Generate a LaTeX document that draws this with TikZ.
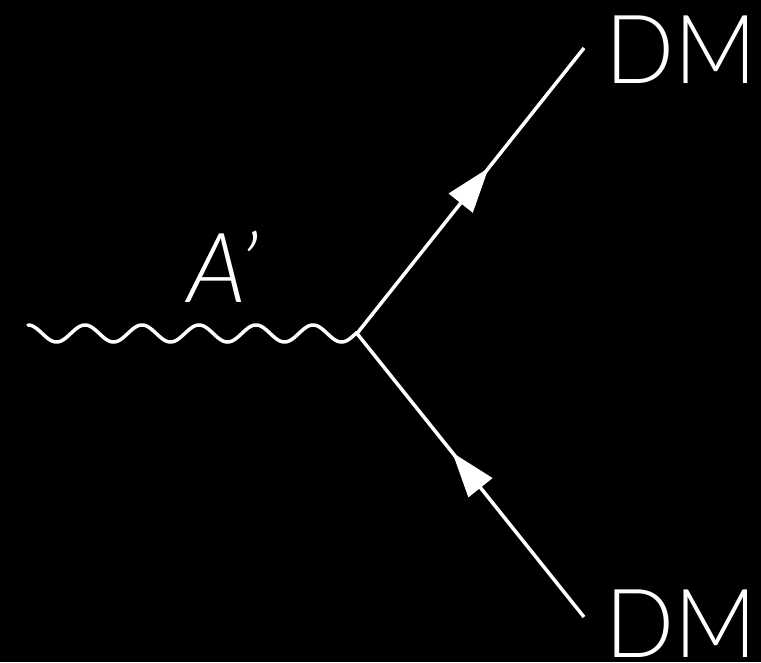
\documentclass[tikz,border=0pt]{standalone}
\usepackage{fontspec}
\usetikzlibrary{arrows.meta,decorations.markings}
\newfontfamily\dmfont{Lato Light}
\newfontfamily\apfont{Lato Light Italic}
\begin{document}
\begin{tikzpicture}[x=1pt,y=-1pt,
  line/.style={white,line width=3.5pt},
  fermion/.style={line, postaction={decorate},
    decoration={markings, mark=at position 0.58 with {\arrow{Triangle[length=45pt,width=30pt]}}}},
  lbl/.style={white,inner sep=0pt,text depth=0pt,font=\dmfont\fontsize{95.6}{95.6}\selectfont}]
\fill[black] (0,0) rectangle (761,662);
\useasboundingbox (0,0) rectangle (761,662);
\coordinate (w) at (28,333.5);
\coordinate (v) at (357,333.5);
\coordinate (t) at (584,48);
\coordinate (b) at (584,617);
\draw[line,line cap=round] plot[domain=0:329,samples=240] ([shift={(\x,{-8.5*cos(\x/57*360)})}]w);
\draw[fermion] (v) -- (t);
\draw[fermion] (b) -- (v);
\node[lbl,anchor=base west] (dm1) at (605,83) {\scalebox{0.95}[1]{DM}};
\node[lbl,anchor=base west] (dm2) at (605,657) {\scalebox{0.95}[1]{DM}};
\node[white,inner sep=0pt,text depth=0pt,anchor=base west,font=\apfont\fontsize{97}{97}\selectfont] (ap) at (187,302) {A’};
\end{tikzpicture}
\end{document}
